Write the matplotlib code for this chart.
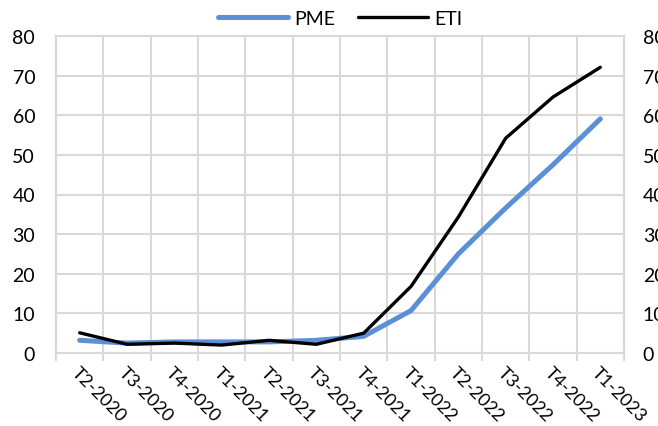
import numpy as np
import matplotlib
matplotlib.use("Agg")
import matplotlib.pyplot as plt
from matplotlib.ticker import MultipleLocator, FixedLocator

QUARTERS = ["T2-2020", "T3-2020", "T4-2020", "T1-2021", "T2-2021", "T3-2021",
            "T4-2021", "T1-2022", "T2-2022", "T3-2022", "T4-2022", "T1-2023"]
PME = [3.2, 2.5, 2.8, 2.8, 2.8, 3.2, 4.2, 10.7, 25.0, 36.6, 47.5, 59.1]
ETI = [5.1, 2.2, 2.5, 2.0, 3.2, 2.2, 5.0, 16.8, 34.3, 54.2, 64.6, 72.1]

GRID = "#D9D9D9"

matplotlib.rcParams["font.family"] = ["Lato", "DejaVu Sans"]
matplotlib.rcParams["font.size"] = 14

fig = plt.figure(figsize=(6.58, 4.27), dpi=100)
ax = fig.add_axes([56 / 658, 1 - 354 / 427, 568 / 658, 317 / 427])

idx = np.arange(len(QUARTERS))
ax.plot(idx, PME, color="#5B8FD6", linewidth=3.6, label="PME",
        solid_capstyle="round", zorder=3)
ax.plot(idx, ETI, color="black", linewidth=2.4, label="ETI",
        solid_capstyle="round", zorder=4)

ax.set_xlim(-0.5, len(QUARTERS) - 0.5)
ax.set_ylim(0, 80)
ax.yaxis.set_major_locator(MultipleLocator(10))
ax.xaxis.set_major_locator(FixedLocator(idx))
ax.xaxis.set_minor_locator(FixedLocator(np.arange(-0.5, len(QUARTERS), 1)))
ax.set_xticklabels(QUARTERS, rotation=-45, ha="left", va="top",
                   rotation_mode="anchor", fontsize=13)
ax.tick_params(axis="x", which="major", length=0, pad=8)
ax.tick_params(axis="x", which="minor", length=6, color=GRID, width=1.5)
ax.tick_params(axis="y", length=0, pad=15)

ax.grid(True, axis="y", color=GRID, linewidth=1.5)
ax.grid(True, axis="x", which="minor", color=GRID, linewidth=1.5)
for s in ax.spines.values():
    s.set_color(GRID)
    s.set_linewidth(1.5)
ax.set_axisbelow(True)

# second y axis, same scale, labels run off the right edge like the original
ax2 = ax.twinx()
ax2.set_ylim(0, 80)
ax2.yaxis.set_major_locator(MultipleLocator(10))
ax2.tick_params(axis="y", length=0, pad=13.5)
for s in ax2.spines.values():
    s.set_visible(False)

ax.legend(loc="lower center", bbox_to_anchor=(0.5, 1.0), ncol=2, frameon=False,
          handlelength=3.6, handletextpad=0.3, columnspacing=1.2,
          borderaxespad=0.05, fontsize=14)

plt.savefig("out.png", dpi=100)
